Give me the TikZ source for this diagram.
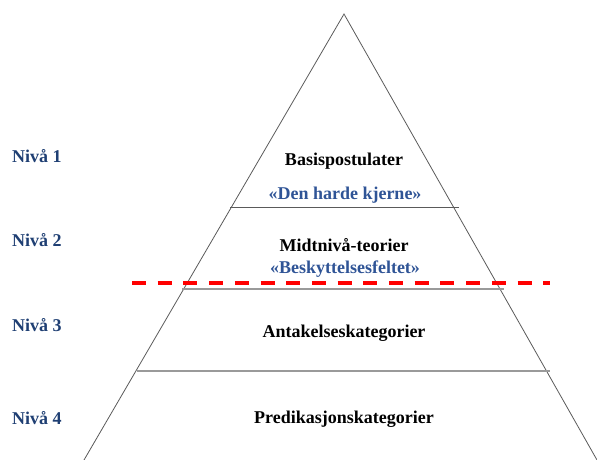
\documentclass[tikz,border=0pt]{standalone}
\usepackage{fontspec}
\setmainfont{Liberation Serif}
\usetikzlibrary{positioning}
\definecolor{nivablue}{HTML}{2F5496}
\definecolor{nivadark}{HTML}{1F3F73}
\definecolor{edgegray}{HTML}{5A5A5A}
\definecolor{tiergray}{HTML}{9A9A9A}

\begin{document}
\begin{tikzpicture}[x=1pt,y=-1pt,
  lvl/.style={font=\fontsize{18}{20}\selectfont\bfseries,
  	inner sep=0pt,
  	anchor=base},
  sub/.style={lvl,text=nivablue},
  niva/.style={lvl,text=nivadark,anchor=base west},
  tier/.style={draw=#1,line width=0.9pt},
  tier/.default=edgegray,
  cut/.style={draw=red,line width=3.5pt,dash pattern=on 14pt off 11.7pt}]
 \useasboundingbox (0,0) rectangle (597,459);
 % pyramid
 \coordinate (top) at (344,14);
 \coordinate (bl) at (84,460);
 \coordinate (br) at (597,460);
 \draw[edgegray,line width=0.8pt] (bl) -- (top) -- (br);
 % tiers
 \coordinate (t1l) at (230,207);  \coordinate (t1r) at (459,207);
 \coordinate (t2l) at (182,289);  \coordinate (t2r) at (504,289);
 \coordinate (t3l) at (137,371);  \coordinate (t3r) at (550,371);
 \draw[tier] (t1l) -- (t1r);
 \draw[tier=tiergray,line width=1.8pt] (t2l) -- (t2r);
 \draw[tier=tiergray,line width=1.3pt] (t3l) -- (t3r);
 % dashed cut
 \coordinate (cutl) at (132,283);
 \coordinate (cutr) at (550,283);
 \draw[cut] (cutl) -- (cutr);
 % texts
 \node[lvl] (basis) at (344,165) {Basispostulater};
 \node[sub] (kjerne) at (345,199) {«Den harde kjerne»};
 \node[lvl] (midt) at (344,251) {Midtnivå-teorier};
 \node[sub] (felt) at (345,273) {«Beskyttelsesfeltet»};
 \node[lvl] (antak) at (344,337) {Antakelseskategorier};
 \node[lvl] (pred) at (344,423) {Predikasjonskategorier};
 % levels
 \node[niva] (n1) at (12,162) {Nivå 1};
 \node[niva] (n2) at (12,246) {Nivå 2};
 \node[niva] (n3) at (12,331) {Nivå 3};
 \node[niva] (n4) at (12,424) {Nivå 4};
\end{tikzpicture}
\end{document}
